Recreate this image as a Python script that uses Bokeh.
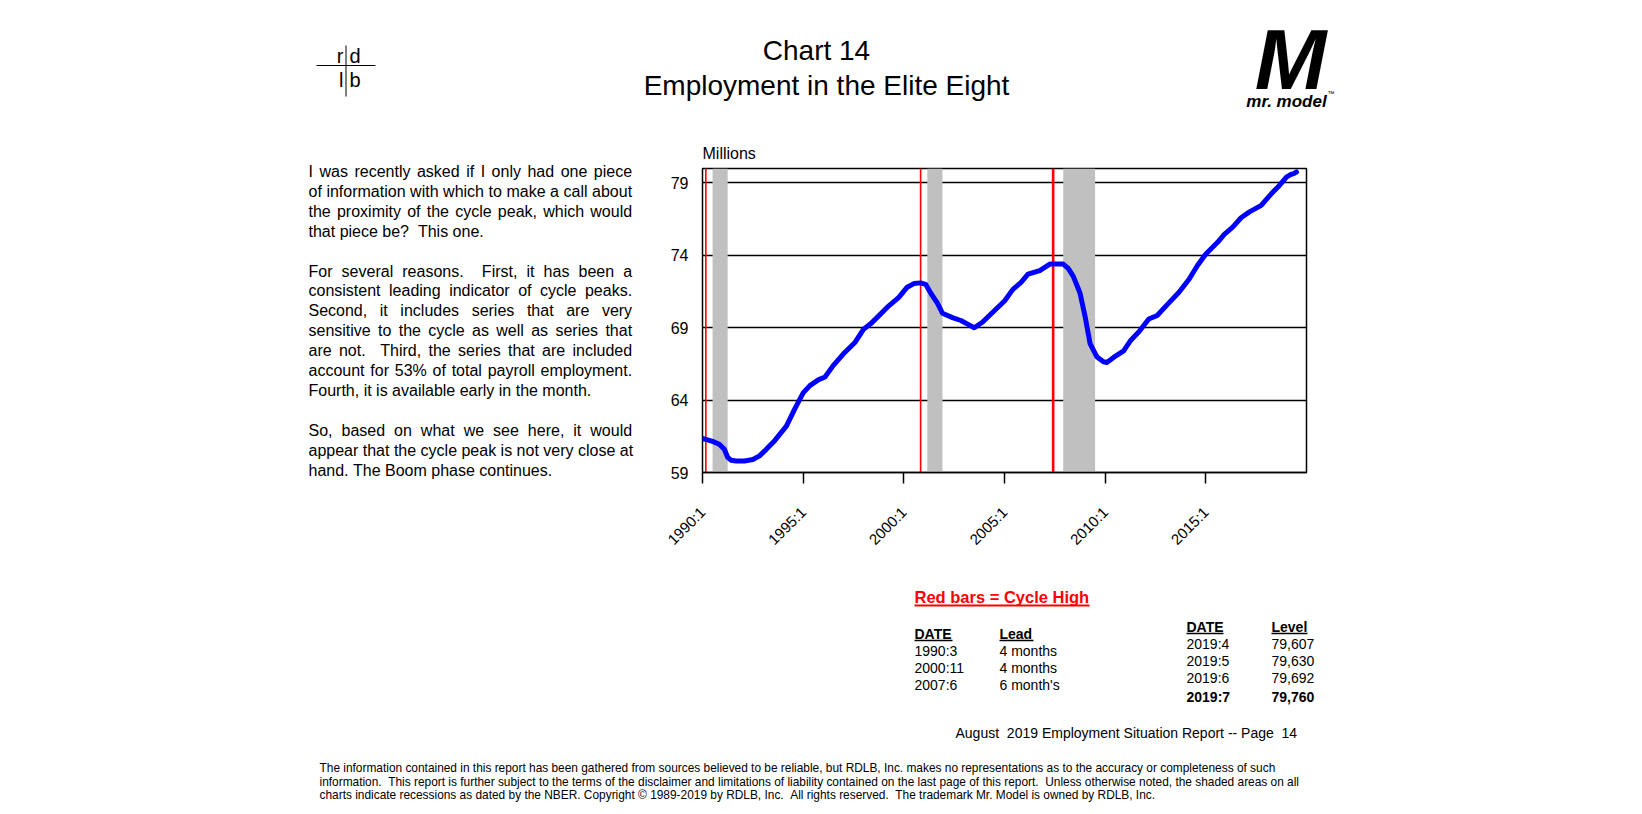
from math import pi
from bokeh.plotting import figure
from bokeh.layouts import column, row
from bokeh.models import Range1d, FixedTicker, Label
from bokeh.embed import file_html
from bokeh.resources import INLINE

# ---------------- data ----------------
dates = ["1990:1", "1990:4", "1990:7", "1990:11", "1991:2", "1991:4", "1991:6", "1991:9",
         "1992:2", "1992:7", "1992:11", "1993:3", "1993:8", "1994:3", "1994:8", "1995:1",
         "1995:5", "1995:10", "1996:2", "1996:7", "1997:1", "1997:8", "1998:1", "1998:5",
         "1998:9", "1999:3", "1999:10", "2000:3", "2000:7", "2000:11", "2001:2", "2001:5",
         "2001:9", "2001:12", "2002:6", "2002:11", "2003:3", "2003:7", "2003:12", "2004:4",
         "2004:8", "2005:1", "2005:6", "2005:11", "2006:3", "2006:10", "2007:4", "2007:8",
         "2007:12", "2008:3", "2008:6", "2008:10", "2009:1", "2009:4", "2009:8", "2009:12",
         "2010:2", "2010:6", "2010:12", "2011:4", "2011:9", "2012:3", "2012:8", "2013:2",
         "2013:9", "2014:3", "2014:8", "2015:1", "2015:8", "2015:12", "2016:5", "2016:10",
         "2017:3", "2017:10", "2018:4", "2018:9", "2019:1", "2019:4", "2019:5", "2019:6",
         "2019:7"]
employment = [61.35, 61.25, 61.15, 60.95, 60.6, 60.05, 59.85, 59.8,
              59.8, 59.9, 60.15, 60.6, 61.2, 62.2, 63.4, 64.5,
              65.0, 65.4, 65.6, 66.4, 67.2, 68.0, 68.9, 69.25,
              69.7, 70.4, 71.1, 71.8, 72.05, 72.1, 72.0, 71.4,
              70.7, 70.0, 69.7, 69.5, 69.25, 69.0, 69.4, 69.85,
              70.3, 70.85, 71.65, 72.15, 72.7, 72.95, 73.4, 73.4,
              73.4, 73.1, 72.55, 71.4, 69.8, 67.9, 67.0, 66.65,
              66.6, 66.95, 67.4, 68.1, 68.7, 69.6, 69.85, 70.6,
              71.45, 72.35, 73.3, 74.1, 74.9, 75.45, 75.95, 76.6,
              77.0, 77.45, 78.25, 78.85, 79.4, 79.607, 79.63, 79.692,
              79.76]

cycle_highs = ["1990:3", "2000:11", "2007:6"]
recession_starts = ["1990:7", "2001:3", "2007:12"]
recession_ends = ["1991:3", "2001:11", "2009:6"]
x_tick_labels = ["1990:1", "1995:1", "2000:1", "2005:1", "2010:1", "2015:1"]
y_ticks = [59, 64, 69, 74, 79]

lead_dates = ["1990:3", "2000:11", "2007:6"]
lead_months = ["4 months", "4 months", "6 month's"]
recent_dates = ["2019:4", "2019:5", "2019:6", "2019:7"]
recent_levels = ["79,607", "79,630", "79,692", "79,760"]

paragraphs = [
    ["I was recently asked if I only had one piece",
     "of information with which to make a call about",
     "the proximity of the cycle peak, which would",
     "that piece be?  This one."],
    ["For several reasons.  First, it has been a",
     "consistent leading indicator of cycle peaks.",
     "Second, it includes series that are very",
     "sensitive to the cycle as well as series that",
     "are not.  Third, the series that are included",
     "account for 53% of total payroll employment.",
     "Fourth, it is available early in the month."],
    ["So, based on what we see here, it would",
     "appear that the cycle peak is not very close at",
     "hand. The Boom phase continues."],
]
disclaimer = [
    "The information contained in this report has been gathered from sources believed to be reliable, but RDLB, Inc. makes no representations as to the accuracy or completeness of such",
    "information.  This report is further subject to the terms of the disclaimer and limitations of liability contained on the last page of this report.  Unless otherwise noted, the shaded areas on all",
    "charts indicate recessions as dated by the NBER. Copyright \u00a9 1989-2019 by RDLB, Inc.  All rights reserved.  The trademark Mr. Model is owned by RDLB, Inc.",
]


def ym(s):
    y, m = s.split(":")
    return int(y) + (int(m) - 1) / 12.0


FONT = "Liberation Sans"
W, H = 1642, 814
TOP_H = 130
MID_H = 430
LEFT_W = 642

# Arial / Liberation Sans advance widths (1/1000 em), used to justify the commentary
_AW = {" ": 278, "!": 278, "%": 889, "'": 191, ",": 278, "-": 333, ".": 278, ":": 278,
       "?": 556, "A": 667, "B": 667, "C": 722, "D": 722, "E": 667, "F": 611, "G": 778,
       "H": 722, "I": 278, "J": 500, "K": 667, "L": 556, "M": 833, "N": 722, "O": 778,
       "P": 667, "Q": 778, "R": 722, "S": 667, "T": 611, "U": 722, "V": 667, "W": 944,
       "X": 667, "Y": 667, "Z": 611, "a": 556, "b": 556, "c": 500, "d": 556, "e": 556,
       "f": 278, "g": 556, "h": 556, "i": 222, "j": 222, "k": 500, "l": 222, "m": 833,
       "n": 556, "o": 556, "p": 556, "q": 556, "r": 333, "s": 500, "t": 278, "u": 556,
       "v": 500, "w": 722, "x": 500, "y": 500, "z": 500}


def text_w(s, size):
    return sum(_AW.get(c, 556) for c in s) * size / 1000.0


def nb(s):
    return s.replace("  ", " \u00a0")


# ---------------- chart ----------------
xs = [ym(d) for d in dates]
p = figure(width=W - LEFT_W, height=MID_H, output_backend="svg", toolbar_location=None,
           x_range=Range1d(1990, 2020), y_range=Range1d(59, 80),
           min_border_left=60, min_border_right=336, min_border_top=38, min_border_bottom=88)
p.background_fill_color = "white"
p.border_fill_color = "white"
p.outline_line_color = "black"
p.outline_line_width = 1.5

p.title.text = "Millions"
p.title.align = "left"
p.title.text_font = FONT
p.title.text_font_size = "16px"
p.title.text_font_style = "normal"
p.title.text_color = "black"
p.title.standoff = 13

p.xaxis.ticker = FixedTicker(ticks=[ym(t) for t in x_tick_labels])
p.xaxis.major_label_overrides = {ym(t): t for t in x_tick_labels}
p.xaxis.major_label_orientation = pi / 4
p.xaxis.major_label_text_font = FONT
p.xaxis.major_label_text_font_size = "15px"
p.xaxis.major_label_text_color = "black"
p.xaxis.major_label_standoff = 26
p.xaxis.major_tick_out = 11
p.xaxis.major_tick_in = 0
p.xaxis.major_tick_line_color = "black"
p.xaxis.major_tick_line_width = 1.5
p.xaxis.minor_tick_line_color = None
p.xaxis.axis_line_color = "black"
p.xaxis.axis_line_width = 1.5

p.yaxis.ticker = FixedTicker(ticks=y_ticks)
p.yaxis.major_label_text_font = FONT
p.yaxis.major_label_text_font_size = "16px"
p.yaxis.major_label_text_color = "black"
p.yaxis.major_label_standoff = 14
p.yaxis.major_tick_out = 0
p.yaxis.major_tick_in = 0
p.yaxis.minor_tick_line_color = None
p.yaxis.axis_line_color = None

p.xgrid.visible = False
p.ygrid.ticker = FixedTicker(ticks=y_ticks[1:])
p.ygrid.grid_line_color = "black"
p.ygrid.grid_line_width = 1.5

p.quad(left=[ym(s) for s in recession_starts],
       right=[ym(e) + 1 / 12.0 for e in recession_ends],
       bottom=59, top=80, fill_color="#c0c0c0", line_color=None)
p.segment(x0=[ym(d) for d in cycle_highs], x1=[ym(d) for d in cycle_highs],
          y0=59, y1=80, line_color="#ff0000", line_width=[1.6, 1.6, 2.6])
p.line(xs, employment, line_color="#0000ff", line_width=5, line_join="round", line_cap="round")


# ---------------- page panels (coordinates = page pixels) ----------------
def page_fig(x0, x1, y0, y1):
    f = figure(width=x1 - x0, height=y1 - y0, output_backend="svg", toolbar_location=None,
               x_range=Range1d(x0, x1), y_range=Range1d(y1, y0),
               x_axis_location=None, y_axis_location=None, min_border=0)
    f.outline_line_color = None
    f.background_fill_color = "white"
    f.border_fill_color = "white"
    f.xgrid.visible = False
    f.ygrid.visible = False
    try:
        f.frame_align = False
    except Exception:
        pass
    return f


def txt(f, x, y, s, size, style="normal", color="black", align="left"):
    f.add_layout(Label(x=x, y=y, text=nb(s), text_font=FONT, text_font_size=f"{size}px",
                       text_font_style=style, text_color=color, text_align=align,
                       text_baseline="middle"))


def rule(f, x0, y0, x1, y1, color="black", width=1.0):
    f.segment(x0=[x0], y0=[y0], x1=[x1], y1=[y1], line_color=color, line_width=width)


# header
top = page_fig(0, W, 0, TOP_H)
rule(top, 345.5, 45, 345.5, 96, width=1)
rule(top, 316, 65, 375, 65, width=1)
txt(top, 343, 55, "r", 20, align="right")
txt(top, 349, 55, "d", 20, align="left")
txt(top, 343, 79, "l", 20, align="right")
txt(top, 349, 79, "b", 20, align="left")
txt(top, 816, 50, "Chart 14", 28, align="center")
txt(top, 826, 84.5, "Employment in the Elite Eight", 28, align="center")
txt(top, 1290, 58, "M", 86, style="bold italic", align="center")
txt(top, 1286, 101, "mr. model", 17, style="bold italic", align="center")
txt(top, 1327, 93, "\u2122", 7, align="left")

# commentary (justified like the reference)
left = page_fig(0, LEFT_W, TOP_H, TOP_H + MID_H)
try:
    p.frame_align = False
except Exception:
    pass
X0, X1, FS = 308.0, 631.6, 16
i = 0
for para in paragraphs:
    for j, line in enumerate(para):
        yy = 171 + 19.9 * i
        last = j == len(para) - 1
        words = line.split(" ")
        nat = text_w(line, FS)
        nspace = line.count(" ")
        extra = 0.0 if (last or nat >= X1 - X0 or nspace == 0) else (X1 - X0 - nat) / nspace
        x = X0
        for w in words:
            if w:
                txt(left, x, yy, w, FS)
            x += text_w(w, FS) + text_w(" ", FS) + extra
        i += 1
    i += 1

# bottom: tables, footer
bot = page_fig(0, W, TOP_H + MID_H, H)
txt(bot, 914, 596, "Red bars = Cycle High", 16.5, style="bold", color="#ff0000")
rule(bot, 914, 605, 1089, 605, color="#ff0000", width=2)

txt(bot, 914, 633, "DATE", 14, style="bold")
rule(bot, 914, 640, 952, 640, width=1.5)
txt(bot, 999, 633, "Lead", 14, style="bold")
rule(bot, 999, 640, 1033, 640, width=1.5)
for k, (d, l) in enumerate(zip(lead_dates, lead_months)):
    txt(bot, 914, 650 + 17.2 * k, d, 14)
    txt(bot, 999, 650 + 17.2 * k, l, 14)

txt(bot, 1186, 626.5, "DATE", 14, style="bold")
rule(bot, 1186, 633, 1223, 633, width=1.5)
txt(bot, 1271, 626.5, "Level", 14, style="bold")
rule(bot, 1271, 633, 1307, 633, width=1.5)
for k, (d, l) in enumerate(zip(recent_dates, recent_levels)):
    last = k == len(recent_dates) - 1
    yy = 643.3 + 16.9 * k + (2.5 if last else 0)
    txt(bot, 1186, yy, d, 14, style="bold" if last else "normal")
    txt(bot, 1271, yy, l, 14, style="bold" if last else "normal")

txt(bot, 955, 732, "August  2019 Employment Situation Report -- Page  14", 14)
for k, line in enumerate(disclaimer):
    txt(bot, 319, 767.6 + 13.6 * k, line, 11.9)

page = column(top, row(left, p), bot)
open("out.html", "w").write(file_html(page, INLINE))
